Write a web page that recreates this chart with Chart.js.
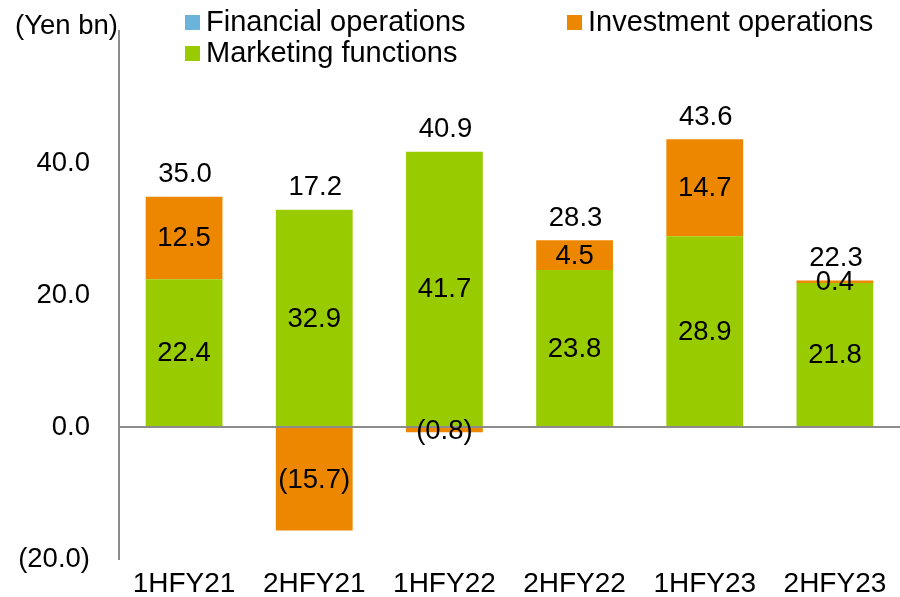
<!DOCTYPE html>
<html>
<head>
<meta charset="utf-8">
<script src="https://cdn.jsdelivr.net/npm/chart.js@4.4.1/dist/chart.umd.min.js"></script>
<style>
  html, body { margin: 0; padding: 0; background: #fff; }
  #wrap { width: 900px; height: 597px; position: relative; }
</style>
</head>
<body>
<div id="wrap"><canvas id="chart" width="900" height="597"></canvas></div>
<script>
const categories = ['1HFY21', '2HFY21', '1HFY22', '2HFY22', '1HFY23', '2HFY23'];
const marketing = [22.4, 32.9, 41.7, 23.8, 28.9, 21.8];
const investment = [12.5, -15.7, -0.8, 4.5, 14.7, 0.4];
const financial = [0, 0, 0, 0, 0, 0];
const totals = [35.0, 17.2, 40.9, 28.3, 43.6, 22.3];
const yTicks = [-20, 0, 20, 40, 60];

const FONT = "'Liberation Sans', Arial, sans-serif";
const GREEN = '#99CC00';
const ORANGE = '#EE8700';
const BLUE = '#6AB4DA';
const AXIS = '#8c8c8c';

// number format, negatives in brackets
function fmt(v) {
  return v < 0 ? `(${Math.abs(v).toFixed(1)})` : v.toFixed(1);
}

// segment values, totals, unit label and legend
const labelsPlugin = {
  id: 'labels',
  afterDatasetsDraw(chart) {
    const ctx = chart.ctx;
    ctx.save();
    ctx.fillStyle = '#000';
    ctx.textAlign = 'center';
    ctx.textBaseline = 'middle';
    ctx.font = `27.5px ${FONT}`;
    chart.data.datasets.forEach((ds, di) => {
      const meta = chart.getDatasetMeta(di);
      meta.data.forEach((bar, i) => {
        const v = ds.data[i];
        if (!v) return;
        ctx.fillText(fmt(v), bar.x, (bar.y + bar.base) / 2 + 1);
      });
    });

    // totals above the positive stack
    const yScale = chart.scales.y;
    const xScale = chart.scales.x;
    totals.forEach((t, i) => {
      let top = 0;
      chart.data.datasets.forEach(ds => { if (ds.data[i] > 0) top += ds.data[i]; });
      const py = yScale.getPixelForValue(top);
      ctx.fillText(fmt(t), xScale.getPixelForValue(i) + 1, py - 22);
    });

    // unit label
    ctx.font = `27.5px ${FONT}`;
    ctx.textAlign = 'left';
    ctx.fillText('(Yen bn)', 15, 26);

    // legend
    const items = [
      { text: 'Financial operations', color: BLUE, x: 185, y: 22 },
      { text: 'Investment operations', color: ORANGE, x: 567, y: 22 },
      { text: 'Marketing functions', color: GREEN, x: 185, y: 53 },
    ];
    ctx.font = `29px ${FONT}`;
    items.forEach(it => {
      ctx.fillStyle = it.color;
      ctx.fillRect(it.x, it.y - 7, 15, 15);
      ctx.fillStyle = '#000';
      ctx.fillText(it.text, it.x + 21, it.y + 1);
    });
    ctx.restore();
  }
};

new Chart(document.getElementById('chart'), {
  type: 'bar',
  data: {
    labels: categories,
    datasets: [
      { label: 'Marketing functions', data: marketing, backgroundColor: GREEN },
      { label: 'Investment operations', data: investment, backgroundColor: ORANGE },
      { label: 'Financial operations', data: financial, backgroundColor: BLUE },
    ]
  },
  options: {
    responsive: false,
    animation: false,
    devicePixelRatio: 1,
    layout: { padding: { top: 31, right: 0, left: 0, bottom: 0 } },
    datasets: { bar: { categoryPercentage: 1, barPercentage: 0.59 } },
    plugins: {
      legend: { display: false },
      tooltip: { enabled: false }
    },
    scales: {
      x: {
        stacked: true,
        grid: { display: false },
        border: { display: false },
        ticks: { color: '#000', font: { family: FONT, size: 28 }, padding: 0, maxRotation: 0 },
        afterFit(scale) {
          scale.height = 38;
          scale.paddingLeft = 0;
          scale.paddingRight = 0;
        }
      },
      y: {
        stacked: true,
        min: -20,
        max: 60,
        afterBuildTicks(scale) { scale.ticks = yTicks.map(v => ({ value: v })); },
        grid: {
          drawTicks: false,
          color: c => c.tick && c.tick.value === 0 ? AXIS : 'rgba(0,0,0,0)',
          lineWidth: 2
        },
        border: { display: true, color: AXIS, width: 2 },
        ticks: {
          color: '#000',
          padding: 29,
          font: { family: FONT, size: 27.5 },
          callback: v => v === 60 ? '' : fmt(v)
        },
        afterFit(scale) {
          scale.width = 119;
          scale.paddingTop = 0;
          scale.paddingBottom = 0;
        }
      }
    }
  },
  plugins: [labelsPlugin]
});
</script>
</body>
</html>
